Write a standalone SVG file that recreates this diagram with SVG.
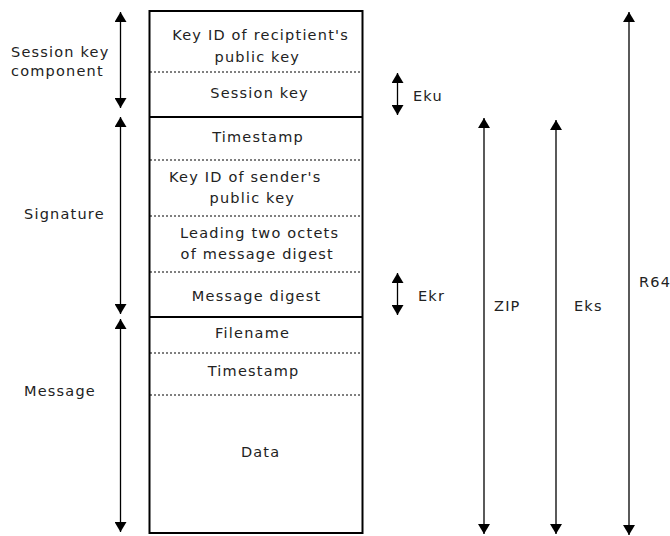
<svg xmlns="http://www.w3.org/2000/svg" width="670" height="536" viewBox="0 0 670 536">
  <style>
    text { font-family: "DejaVu Sans", Verdana, sans-serif; font-size: 14.5px; letter-spacing: 1.2px; fill: #222; }
    .c { text-anchor: middle; }
    .frame { fill: none; stroke: #000; stroke-width: 2; }
    .sep { stroke: #000; stroke-width: 2; }
    .dot { stroke: #000; stroke-width: 1; stroke-dasharray: 2 2; }
    .arr { stroke: #000; stroke-width: 1.3; fill: none; marker-start: url(#head); marker-end: url(#head); }
  </style>
  <defs>
    <marker id="head" viewBox="0 0 10 12" refX="10" refY="6" markerWidth="10" markerHeight="12" markerUnits="userSpaceOnUse" orient="auto-start-reverse">
      <path d="M0,0 L10,6 L0,12 Z" fill="#000"/>
    </marker>
  </defs>

  <g id="packet">
    <rect class="frame" x="149.5" y="11" width="213" height="522"/>
    <line class="sep" x1="149.5" y1="117" x2="362.5" y2="117"/>
    <line class="sep" x1="149.5" y1="317" x2="362.5" y2="317"/>
  </g>

  <g id="session-key-component">
    <line class="dot" x1="150" y1="72" x2="362" y2="72"/>
    <text class="c" x="260.6" y="40">Key ID of reciptient's</text>
    <text class="c" x="257.3" y="62">public key</text>
    <text class="c" x="259.6" y="98">Session key</text>
  </g>

  <g id="signature">
    <line class="dot" x1="150" y1="160" x2="362" y2="160"/>
    <line class="dot" x1="150" y1="216" x2="362" y2="216"/>
    <line class="dot" x1="150" y1="272" x2="362" y2="272"/>
    <text class="c" x="258" y="142">Timestamp</text>
    <text class="c" x="245.3" y="182">Key ID of sender's</text>
    <text class="c" x="252.3" y="203">public key</text>
    <text class="c" x="259.6" y="238">Leading two octets</text>
    <text class="c" x="257.3" y="259">of message digest</text>
    <text class="c" x="256.6" y="301">Message digest</text>
  </g>

  <g id="message">
    <line class="dot" x1="150" y1="353" x2="362" y2="353"/>
    <line class="dot" x1="150" y1="395" x2="362" y2="395"/>
    <text class="c" x="252.6" y="338">Filename</text>
    <text class="c" x="253.6" y="376">Timestamp</text>
    <text class="c" x="260.6" y="457">Data</text>
  </g>

  <g id="labels">
    <text x="11" y="57">Session key</text>
    <text x="11" y="76">component</text>
    <text x="24" y="219">Signature</text>
    <text x="24" y="396">Message</text>
    <text x="413" y="101">Eku</text>
    <text x="418" y="301">Ekr</text>
    <text x="494" y="311">ZIP</text>
    <text x="574" y="311">Eks</text>
    <text x="639" y="287">R64</text>
  </g>

  <g id="connectors">
    <line class="arr" x1="120.5" y1="12" x2="120.5" y2="108"/>
    <line class="arr" x1="120.5" y1="117" x2="120.5" y2="314"/>
    <line class="arr" x1="120.5" y1="319" x2="120.5" y2="532"/>
    <line class="arr" x1="397.5" y1="73" x2="397.5" y2="115"/>
    <line class="arr" x1="397.5" y1="273" x2="397.5" y2="315"/>
    <line class="arr" x1="484" y1="118" x2="484" y2="534"/>
    <line class="arr" x1="556" y1="120" x2="556" y2="534"/>
    <line class="arr" x1="629" y1="12" x2="629" y2="535"/>
  </g>
</svg>
